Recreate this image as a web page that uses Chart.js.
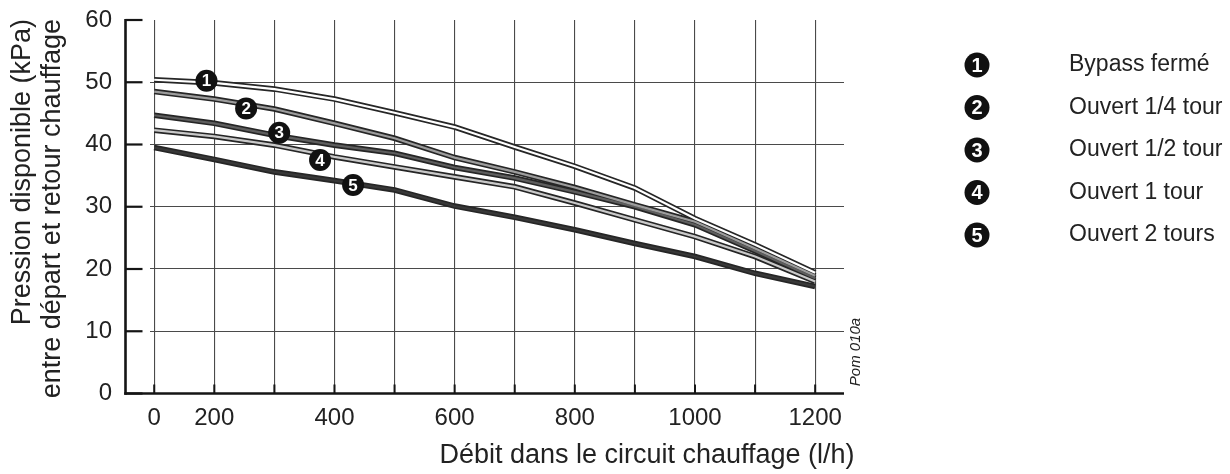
<!DOCTYPE html>
<html><head><meta charset="utf-8">
<script src="https://cdn.jsdelivr.net/npm/chart.js@4.4.1/dist/chart.umd.min.js"></script>
<style>html,body{margin:0;padding:0;background:#fff}#wrap{position:relative;width:1230px;height:474px}</style>
</head><body><div id="wrap"><canvas id="c" width="1230" height="474"></canvas></div>
<script>
// ---- data ----
const flowCategories = [0, 200, 300, 400, 500, 600, 700, 800, 900, 1000, 1100, 1200];
const shownTickLabels = ['0', '200', '400', '600', '800', '1000', '1200'];
const pressureTicks = [0, 10, 20, 30, 40, 50, 60];
const seriesNames = ['Bypass fermé', 'Ouvert 1/4 tour', 'Ouvert 1/2 tour', 'Ouvert 1 tour', 'Ouvert 2 tours'];
const bypassClosed   = [50.4, 49.9, 48.9, 47.3, 45.1, 42.8, 39.6, 36.5, 33.0, 28.1, 23.9, 19.4];
const openQuarter    = [48.5, 47.3, 45.7, 43.4, 41.0, 37.9, 35.6, 33.1, 30.3, 27.6, 23.3, 18.9];
const openHalf       = [44.7, 43.4, 41.5, 39.9, 38.6, 36.3, 34.6, 32.4, 30.0, 27.1, 22.9, 18.5];
const openOneTurn    = [42.3, 41.3, 39.9, 38.0, 36.4, 34.8, 33.2, 30.6, 27.9, 25.2, 22.0, 18.0];
const openTwoTurns   = [39.5, 37.6, 35.6, 34.2, 32.7, 30.1, 28.3, 26.3, 24.1, 22.0, 19.3, 17.2];
const markerPositions = [0.87, 1.53, 2.08, 2.76, 3.31];   // position along the grid of the x axis
const markerValues    = [50.25, 45.8, 41.9, 37.5, 33.5];
const xTitle = 'Débit dans le circuit chauffage (l/h)';
const yTitle = ['Pression disponible (kPa)', 'entre départ et retour chauffage'];
const figureCode = 'Pom 010a';

// ---- styles ----
const seriesValues = [bypassClosed, openQuarter, openHalf, openOneTurn, openTwoTurns];
const innerColors = ['#ffffff', '#9c9c9c', '#5e5e5e', '#c9c9c9', '#383838'];
const outlineColor = '#262626';
const gridColor = '#4a4a4a';
const FONT = 'Liberation Sans, Arial, sans-serif';

const toPoints = arr => arr.map((v, i) => ({ x: i, y: v }));
const inner = seriesValues.map((arr, k) => ({
  label: seriesNames[k], data: toPoints(arr), borderColor: innerColors[k],
  borderWidth: 2.2, pointRadius: 0, tension: 0, fill: false
}));
const outline = seriesValues.map((arr, k) => ({
  label: seriesNames[k] + ' (contour)', data: toPoints(arr), borderColor: outlineColor,
  borderWidth: 5.6, pointRadius: 0, tension: 0, fill: false
}));

const overlay = {
  id: 'overlay',
  beforeDatasetsDraw(chart) {
    const { ctx, chartArea: a, scales: { x, y } } = chart;
    const axisX = a.left - 24.5;
    const y0 = y.getPixelForValue(0);
    ctx.save();
    ctx.strokeStyle = '#151515';
    ctx.lineCap = 'butt';
    ctx.lineWidth = 2.6;
    ctx.beginPath();
    ctx.moveTo(axisX, y.getPixelForValue(60) - 1);
    ctx.lineTo(axisX, y0 + 1.3);
    ctx.stroke();
    ctx.lineWidth = 2.2;
    pressureTicks.forEach(v => {
      const py = y.getPixelForValue(v);
      ctx.beginPath(); ctx.moveTo(axisX, py); ctx.lineTo(axisX + 17, py); ctx.stroke();
    });
    ctx.lineWidth = 2.6;
    ctx.beginPath(); ctx.moveTo(axisX - 1.3, y0); ctx.lineTo(a.right, y0); ctx.stroke();
    ctx.lineWidth = 2;
    flowCategories.forEach((c, i) => {
      const px = x.getPixelForValue(i);
      ctx.beginPath(); ctx.moveTo(px, y0); ctx.lineTo(px, y0 - 9); ctx.stroke();
    });
    ctx.restore();
  },
  afterDatasetsDraw(chart) {
    const { ctx, scales: { x, y } } = chart;
    ctx.save();
    markerPositions.forEach((p, k) => {
      const px = x.getPixelForValue(p), py = y.getPixelForValue(markerValues[k]);
      ctx.fillStyle = '#111';
      ctx.beginPath(); ctx.arc(px, py, 11, 0, Math.PI * 2); ctx.fill();
      ctx.fillStyle = '#fff';
      ctx.font = 'bold 17px ' + FONT;
      ctx.textAlign = 'center'; ctx.textBaseline = 'middle';
      ctx.fillText(String(k + 1), px, py + 1);
    });
    ctx.restore();
  },
  afterDraw(chart) {
    const { ctx } = chart;
    ctx.save();
    ctx.fillStyle = '#222';
    ctx.font = '27px ' + FONT;
    ctx.textAlign = 'right'; ctx.textBaseline = 'middle';
    [[23, yTitle[0]], [53, yTitle[1]]].forEach(([cx, t]) => {
      ctx.save(); ctx.translate(cx, 19); ctx.rotate(-Math.PI / 2);
      ctx.fillText(t, 0, 0); ctx.restore();
    });
    ctx.textAlign = 'center';
    ctx.fillText(xTitle, 647, 456);
    ctx.font = 'italic 15px ' + FONT;
    ctx.save(); ctx.translate(856, 352); ctx.rotate(-Math.PI / 2);
    ctx.fillText(figureCode, 0, 0); ctx.restore();
    const rows = [65, 107.5, 150, 192.5, 235];
    seriesNames.forEach((n, k) => {
      ctx.fillStyle = '#111';
      ctx.beginPath(); ctx.arc(977, rows[k], 12.5, 0, Math.PI * 2); ctx.fill();
      ctx.fillStyle = '#fff';
      ctx.font = 'bold 20px ' + FONT;
      ctx.textAlign = 'center';
      ctx.fillText(String(k + 1), 977, rows[k] + 1);
      ctx.fillStyle = '#222';
      ctx.font = '23px ' + FONT;
      ctx.textAlign = 'left';
      ctx.fillText(n, 1069, rows[k]);
    });
    ctx.restore();
  }
};

new Chart(document.getElementById('c'), {
  type: 'line',
  data: { datasets: inner.concat(outline) },
  options: {
    responsive: false, animation: false, devicePixelRatio: 1,
    layout: { padding: { left: 0, right: 386, top: 20, bottom: 0 } },
    plugins: { legend: { display: false }, tooltip: { enabled: false } },
    scales: {
      x: {
        type: 'linear', min: -0.07, max: 11.48,
        afterBuildTicks: s => { s.ticks = flowCategories.map((c, i) => ({ value: i })); },
        afterFit: s => { s.height = 80.5; },
        grid: { color: gridColor, lineWidth: 1.1, drawTicks: true, tickLength: 10, tickColor: 'rgba(0,0,0,0)' },
        border: { display: false },
        ticks: {
          autoSkip: false, maxRotation: 0, padding: 0, color: '#222',
          font: { family: FONT, size: 24 },
          callback: v => { const l = String(flowCategories[v]); return shownTickLabels.includes(l) ? l : ''; }
        }
      },
      y: {
        min: 0, max: 60,
        afterBuildTicks: s => { s.ticks = pressureTicks.map(v => ({ value: v })); },
        afterFit: s => { s.width = 150; },
        grid: {
          color: c => (c.tick && (c.tick.value === 0 || c.tick.value === 60)) ? 'rgba(0,0,0,0)' : gridColor,
          lineWidth: 1.1, drawTicks: true, tickLength: 38, tickColor: 'rgba(0,0,0,0)'
        },
        border: { display: false },
        ticks: { padding: 0, color: '#222', font: { family: FONT, size: 24 } }
      }
    }
  },
  plugins: [overlay]
});
</script>
</body></html>
